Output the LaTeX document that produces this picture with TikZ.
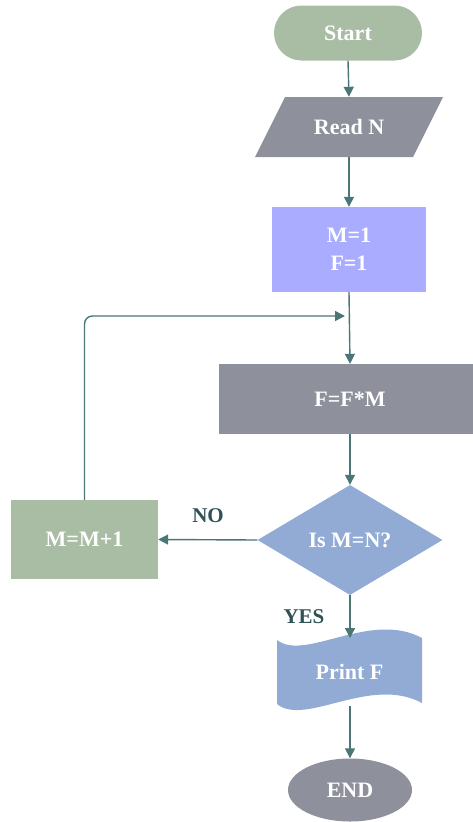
\documentclass[tikz,border=0pt]{standalone}
\usepackage{fontspec}
\setmainfont{Liberation Serif}
\usetikzlibrary{arrows.meta,shapes.geometric}
\definecolor{sage}{HTML}{A9BDA5}
\definecolor{slate}{HTML}{8E919C}
\definecolor{lilac}{HTML}{A9ACFF}
\definecolor{steel}{HTML}{91ABD5}
\definecolor{wire}{HTML}{4A7677}
\definecolor{tag}{HTML}{2F5255}
\tikzset{
  txt/.style={text=white,font=\bfseries\fontsize{22}{28}\selectfont,align=center,inner sep=0pt},
  box/.style={txt,rectangle,draw=none},
  flow/.style={draw=wire,line width=1.4pt,-{Triangle[length=10pt,width=10pt]}},
  lbl/.style={text=tag,font=\bfseries\fontsize{21}{22}\selectfont,inner sep=0pt}
}
\begin{document}
\begin{tikzpicture}[x=1pt,y=-1pt]
\useasboundingbox (0,0) rectangle (473,822);

% terminal: start
\node[box,fill=sage,rounded corners=27.5pt,minimum width=148pt,minimum height=55pt] (start) at (348,33) {Start};

% input parallelogram
\fill[slate] (285,97) -- (443,97) -- (413,157) -- (255,157) -- cycle;
\node[box,minimum width=158pt,minimum height=60pt] (read) at (349,127) {Read N};

% initialisation
\node[box,fill=lilac,minimum width=154pt,minimum height=85pt] (init) at (349,249.5) {M=1\\F=1};

% product step
\node[box,fill=slate,minimum width=262pt,minimum height=70pt] (prod) at (350,399) {F=F*M};

% decision
\node[txt,diamond,fill=steel,aspect=1.68,minimum width=185pt,minimum height=110pt] (test) at (350,540) {Is M=N?};

% increment
\node[box,fill=sage,minimum width=147pt,minimum height=79pt] (incr) at (84.5,539.5) {M=M+1};

% output document with wavy edges
\fill[steel] (277,640) .. controls (305,662) and (370,610) .. (422,638)
  -- (422,703) .. controls (370,675) and (305,727) .. (277,704) -- cycle;
\node[box,minimum width=145pt,minimum height=64pt] (print) at (349.5,672) {Print F};

% terminal: end
\node[txt,ellipse,fill=slate,minimum width=124pt,minimum height=63pt] (stop) at (350,790) {END};

% connectors
\coordinate (printtop) at (350,638);
\coordinate (printbot) at (350,706);
\coordinate (loopend) at (345,316);
\draw[flow] (start.south) -- (read.north);
\draw[flow] (read.south) -- (read.south |- init.north);
\draw[flow] (init.south) -- (prod.north);
\draw[flow] (prod.south) -- (test.north);
\draw[flow] (test.west) -- (incr.east);
\draw[flow,rounded corners=8pt] (incr.north) |- (loopend);
\draw[flow] (test.south) -- (printtop);
\draw[flow] (printbot) -- (stop.north);

% branch labels
\node[lbl] (no) at (208,516) {NO};
\node[lbl] (yes) at (304,617) {YES};
\end{tikzpicture}
\end{document}
